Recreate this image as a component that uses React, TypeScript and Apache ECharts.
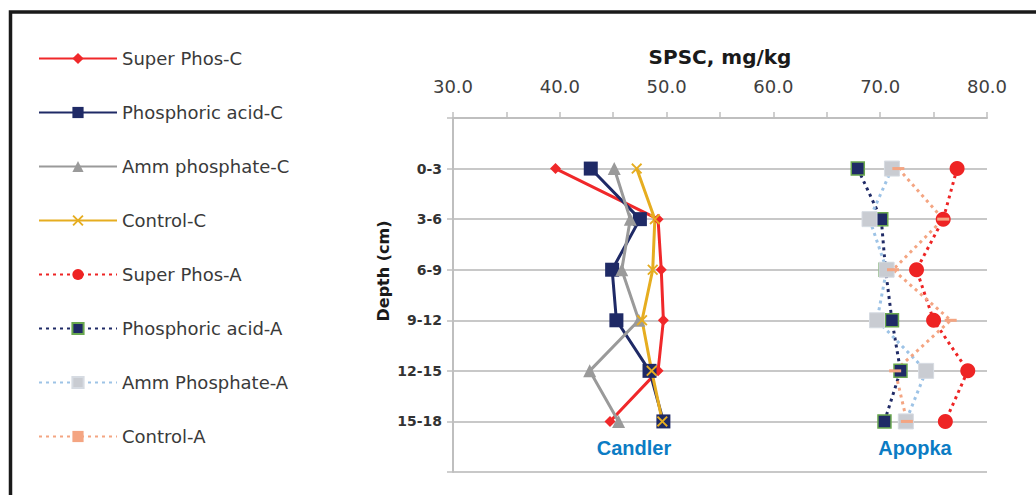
import React, { useEffect, useRef } from "react";
import * as echarts from "echarts";

const depthLabels = ["0-3", "3-6", "6-9", "9-12", "12-15", "15-18"];
const axisCategories = ["", ...depthLabels, ""];

const superPhosC = [39.6, 49.2, 49.5, 49.7, 49.2, 44.7];
const phosAcidC = [42.9, 47.5, 44.9, 45.3, 48.4, 49.7];
const ammPhosC = [45.1, 46.6, 45.8, 47.4, 42.8, 45.5];
const controlC = [47.2, 48.9, 48.7, 47.7, 48.6, 49.6];

const superPhosA = [77.2, 75.9, 73.4, 75.0, 78.2, 76.1];
const phosAcidA = [67.9, 70.1, 70.5, 71.1, 71.9, 70.4];
const ammPhosA = [71.1, 69.0, 70.6, 69.7, 74.3, 72.4];
const controlA = [71.7, 75.9, 71.2, 76.6, 71.4, 72.5];

const xTicks = { min: 30, max: 80, interval: 10 };

const FONT = "DejaVu Sans";
const XMARK =
  "path://M0,1.2 L1.2,0 L5,3.8 L8.8,0 L10,1.2 L6.2,5 L10,8.8 L8.8,10 L5,6.2 L1.2,10 L0,8.8 L3.8,5 Z";

const toData = (vals: number[]) => vals.map((v, i) => [v, depthLabels[i]]);

export default function App() {
  const ref = useRef<HTMLDivElement>(null);
  useEffect(() => {
    if (!ref.current) return;
    const chart = echarts.init(ref.current, undefined, { renderer: "svg" });
    const dotted = [3, 4];
    const series: any[] = [
      {
        name: "Super Phos-C",
        data: toData(superPhosC),
        color: "#f0282a",
        lineStyle: { width: 3 },
        symbol: "diamond",
        symbolSize: 11,
      },
      {
        name: "Phosphoric acid-C",
        data: toData(phosAcidC),
        color: "#1f2a66",
        lineStyle: { width: 3 },
        symbol: "rect",
        symbolSize: 14,
      },
      {
        name: "Amm phosphate-C",
        data: toData(ammPhosC),
        color: "#9a9a9a",
        lineStyle: { width: 3 },
        symbol: "triangle",
        symbolSize: 13,
      },
      {
        name: "Control-C",
        data: toData(controlC),
        color: "#e6ad20",
        lineStyle: { width: 3 },
        symbol: XMARK,
        symbolSize: 11,
      },
      {
        name: "Super Phos-A",
        data: toData(superPhosA),
        color: "#ee2424",
        lineStyle: { width: 3, type: dotted },
        symbol: "circle",
        symbolSize: 15,
      },
      {
        name: "Phosphoric acid-A",
        data: toData(phosAcidA),
        color: "#1f2a66",
        lineStyle: { width: 3, type: dotted },
        symbol: "rect",
        symbolSize: 13,
        itemStyle: { borderColor: "#6aa84f", borderWidth: 1.5 },
      },
      {
        name: "Amm Phosphate-A",
        data: toData(ammPhosA),
        color: "#9dc3e6",
        lineStyle: { width: 3, type: dotted, color: "#9dc3e6" },
        symbol: "rect",
        symbolSize: 15,
        itemStyle: { color: "#c9ccd2", borderColor: "#d6dbe2", borderWidth: 1 },
      },
      {
        name: "Control-A",
        data: toData(controlA),
        color: "#f4a582",
        lineStyle: { width: 3, type: dotted },
        symbol: "rect",
        symbolSize: [12, 3],
      },
    ].map((s) => ({ type: "line", z: 3, ...s }));

    chart.setOption({
      animation: false,
      backgroundColor: "#ffffff",
      textStyle: { fontFamily: FONT },
      grid: { left: 453, right: 49, top: 118, bottom: 23, containLabel: false },
      legend: {
        orient: "vertical",
        left: 38,
        top: 48,
        padding: 0,
        itemWidth: 78,
        itemHeight: 14,
        itemGap: 33,
        textStyle: {
          fontFamily: FONT,
          fontSize: 18,
          color: "#3a3a3a",
          lineHeight: 21,
        },
        data: series.map((s) => s.name),
      },
      xAxis: {
        type: "value",
        position: "top",
        min: xTicks.min,
        max: xTicks.max,
        interval: xTicks.interval,
        name: "SPSC, mg/kg",
        nameLocation: "middle",
        nameGap: 51,
        nameTextStyle: {
          fontFamily: FONT,
          fontSize: 20,
          fontWeight: "bold",
          color: "#1a1a1a",
        },
        axisLine: { show: true, lineStyle: { color: "#bfbfbf", width: 2 } },
        axisTick: { show: true, length: 6, lineStyle: { color: "#bfbfbf", width: 1.5 } },
        minorTick: { show: true, splitNumber: 2, length: 6, lineStyle: { color: "#bfbfbf", width: 1.5 } },
        splitLine: { show: false },
        axisLabel: {
          margin: 23,
          fontFamily: FONT,
          fontSize: 18,
          color: "#404040",
          formatter: (v: number) => v.toFixed(1),
        },
      },
      yAxis: {
        type: "category",
        data: axisCategories,
        inverse: true,
        boundaryGap: false,
        axisLine: { show: true, lineStyle: { color: "#bfbfbf", width: 2 } },
        axisTick: { show: true, length: 6, lineStyle: { color: "#bfbfbf", width: 1.5 } },
        splitLine: { show: true, lineStyle: { color: "#c8c8c8", width: 2 } },
        axisLabel: {
          margin: 11,
          fontFamily: FONT,
          fontSize: 14,
          fontWeight: "bold",
          color: "#333333",
        },
      },
      graphic: [
        {
          type: "rect",
          shape: { x: 10.5, y: 12, width: 1100, height: 600 },
          style: { fill: "none", stroke: "#1a1a1a", lineWidth: 3.5 },
          silent: true,
        },
        {
          type: "text",
          x: 383,
          y: 271,
          rotation: Math.PI / 2,
          style: {
            text: "Depth (cm)",
            fontFamily: FONT,
            fontSize: 16,
            fontWeight: "bold",
            fill: "#1a1a1a",
            align: "center",
            verticalAlign: "middle",
          },
        },
        {
          type: "text",
          x: 634,
          y: 448,
          style: {
            text: "Candler",
            fontFamily: "Liberation Sans",
            fontSize: 20,
            fontWeight: "bold",
            fill: "#0b7cc4",
            align: "center",
            verticalAlign: "middle",
          },
        },
        {
          type: "text",
          x: 915,
          y: 448,
          style: {
            text: "Apopka",
            fontFamily: "Liberation Sans",
            fontSize: 20,
            fontWeight: "bold",
            fill: "#0b7cc4",
            align: "center",
            verticalAlign: "middle",
          },
        },
      ],
      series,
    });
    return () => chart.dispose();
  }, []);
  return (
    <div
      ref={ref}
      style={{ position: "fixed", left: 0, top: 0, width: 1036, height: 495 }}
    />
  );
}
